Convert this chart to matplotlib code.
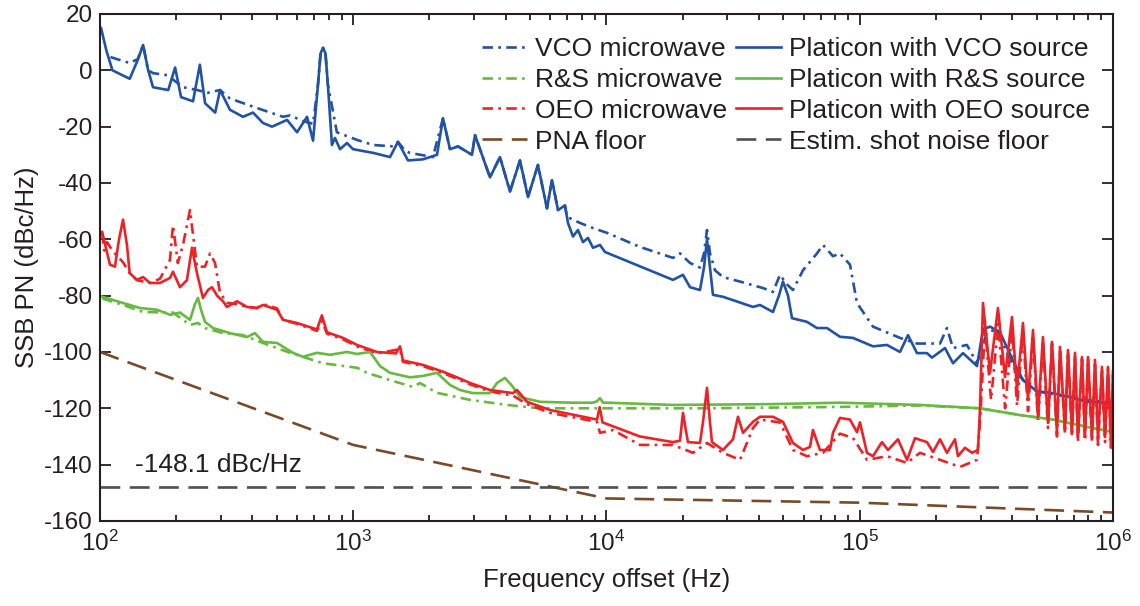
import matplotlib
matplotlib.use('Agg')
import matplotlib.pyplot as plt
from matplotlib.ticker import LogLocator, MultipleLocator, NullFormatter

plt.rcParams['font.family'] = ['Liberation Sans', 'DejaVu Sans']
plt.rcParams['mathtext.default'] = 'regular'
plt.rcParams['axes.unicode_minus'] = False

# VCO microwave source (dash-dot) and platicon locked to it (solid)
vco_mw_f = [110, 131, 141, 148, 155, 162, 184, 213, 242, 265, 298, 326, 417, 528, 563, 633, 694, 726, 743, 760,
            777, 794, 862, 1035, 1197, 1435, 1502, 1601, 1673, 2064, 2262, 2410, 2592, 2944, 3026, 3467, 3797,
            4159, 4555, 4898, 5363, 5821, 6093, 6436, 6857, 6982, 7862, 8845, 10046, 13560, 18306, 19510, 21370,
            23400, 24270, 24940, 25630, 26830, 28840, 33670, 41500, 45440, 48440, 51620, 54500, 59690, 67800,
            71590, 78410, 83560, 91520, 97540, 112800, 144200, 168300, 207500, 221000, 233500, 265100, 290400,
            318100, 348300, 381500, 417800, 483300, 579700, 789600, 1000000]
vco_mw_pn = [4.7, 2.6, 4, 9, 0, -1, -1.7, -6, -7, -8, -7, -10, -13.4, -16.5, -16, -18, -19, -5, 6, 8,
             6, -5, -22, -24.7, -26.5, -27, -25.4, -28.5, -29.3, -30.8, -17, -28, -27, -30, -23, -38, -30.8,
             -43, -32, -45, -33.6, -49, -39, -49.6, -48, -52, -54.2, -56, -57.7, -62.7, -66.6, -65, -68.4,
             -70, -65, -56.7, -65, -71, -73.4, -75, -77.3, -78.7, -72.6, -76, -78, -71, -65,
             -62, -66, -65, -69, -82.6, -91, -95, -97, -97, -91.5, -98.6, -97.5, -104,
             -93, -92, -100.4, -107.6, -113.6, -115, -117, -118]

vco_plat_f = [101, 106, 112, 131, 141, 148, 155, 162, 186, 198, 209, 233, 248, 260, 285, 298, 326, 367, 402, 440,
              478, 548, 600, 657, 694, 726, 743, 760, 777, 794, 824, 847, 887, 945, 998, 1197, 1397, 1502, 1645,
              1886, 2142, 2262, 2410, 2592, 2944, 3026, 3467, 3797, 4159, 4555, 4898, 5363, 5821, 6093, 6436,
              6857, 7047, 7374, 7718, 8076, 8453, 8845, 9428, 9865, 18306, 20050, 21370, 23400, 24270, 24940,
              25630, 26330, 28840, 37890, 40380, 45440, 47970, 49770, 52100, 54020, 61900, 67800, 74250, 83560,
              94060, 112800, 128100, 144200, 155100, 168300, 184300, 192900, 217100, 233500, 255700, 290400,
              306700, 326900, 357900, 402900, 441200, 501100, 579700, 676600, 789600, 946900, 1000000]
vco_plat_pn = [15, 7, 0, -3, 3.7, 9, 0, -6, -7, 1, -9.5, -11, 2, -11.7, -15, -7, -14, -16.5, -15, -18.7,
               -20, -17.6, -22, -16.5, -25, -5, 6, 8, 6, -5, -26.5, -24, -28, -25.8, -28, -29.3, -30.8, -25.4, -32,
               -31.6, -30, -17, -28, -27, -30, -23, -38, -30.8, -43, -32, -45, -33.6, -49, -39, -49.6,
               -48, -54.2, -59, -56.7, -61, -59.5, -63, -62, -64.5, -74.4, -72.6, -77, -78, -70, -60,
               -70, -79.7, -80.4, -84, -83.3, -85.8, -80, -75, -80, -88, -89.3, -91.5, -91.5, -94.6,
               -95, -98, -97.5, -100, -94, -100.4, -100.4, -102, -98.6, -104, -100.4, -105,
               -92, -91, -93, -103, -110, -114, -114.6, -116, -117.7, -118, -118]

# R&S microwave source and platicon locked to it
rs_mw_f = [102, 123.3, 148, 194.2, 226.7, 243.8, 259.8, 306, 367, 440, 563, 760, 1035, 1133, 1397, 1722, 1834,
           2142, 2891, 4047, 5463, 10046, 23400, 83560, 173000, 298500, 429400, 579700, 789600, 1000000]
rs_mw_pn = [-81, -83.3, -85.8, -86, -90.4, -89.7, -91.5, -93.3, -94, -96.8, -100.3, -104, -105.6, -107.4, -110,
            -112.4, -111, -114.5, -117, -118.8, -120, -120, -120, -119.5, -119, -120, -122.4, -124, -126.6, -128.4]

rs_plat_f = [102, 123.3, 143.9, 168, 189, 207, 226.7, 237.2, 243.8, 250.6, 259.8, 279.4, 326, 380.6, 409.3, 440,
             500, 578, 633, 719, 809.5, 945, 1035, 1165, 1276, 1397, 1675, 1886, 2142, 2410, 2639, 2971, 3467,
             3694, 3974, 4237, 4555, 5463, 7374, 8845, 9173, 9428, 9700, 10046, 18306, 45440, 83560, 173000,
             298500, 429400, 579700, 789600, 1000000]
rs_plat_pn = [-80.4, -82.6, -84.4, -85, -86.8, -86, -88.6, -83, -80.8, -85, -89.3, -91.5, -93.3, -94.7, -93.3, -96.4,
              -96.8, -100.3, -101.7, -100.3, -101, -100, -100.7, -100, -105, -107.4, -109, -108.5, -107.4, -111.7,
              -113.5, -114.6, -114.6, -111, -109.2, -112, -116, -117.7, -118, -118, -117.5, -116.4, -118, -118,
              -118.8, -118.5, -118, -118.8, -120, -122.4, -124, -126.6, -128.4]

# OEO microwave source and platicon locked to it
oeo_mw_f = [102, 104, 106.6, 112, 117, 123, 131, 140, 157.6, 172.6, 189, 194.2, 203, 212.7, 226.7, 241.5, 259.8,
            271.9, 284.6, 297.8, 317, 347.5, 380.6, 417, 440, 500, 528, 600, 719, 752, 788, 911, 1035, 1241, 1530,
            1572, 1886, 2262, 2569, 2891, 3467, 4274, 4855, 5983, 9173, 9428, 10610, 13560, 18306, 21960, 24940,
            28840, 33670, 37890, 40380, 48440, 54500, 61900, 71590, 83560, 94060, 106800, 128100, 153700, 173000,
            207500, 248900, 290400, 298500, 312300, 330000, 352000, 375000, 400000, 418000, 441000, 462000,
            483000, 506000, 529000, 554000, 574300, 601000, 617800, 646300, 664300, 688900, 707900, 727400,
            754500, 775100, 796900, 826500, 849200, 872800, 904800, 930100, 955700, 982000, 1000000]
oeo_mw_pn = [-57.8, -64, -61, -64, -66, -68, -72, -74.5, -75.5, -74, -67.3, -55, -68.4, -62, -49.6, -69.7, -69.7,
             -65, -68.4, -79, -82.5, -83, -84, -84.4, -83, -84.5, -88.6, -90, -92.5, -89, -93.5, -95.5, -98, -100.5, -99,
             -103.5, -105, -107.5, -109.5, -111.5, -114, -115.5, -118.5, -121.6, -124.8, -128.7, -127.7, -133, -133, -135.8, -132.3,
             -135.8, -138.3, -127, -124, -125, -134.8, -137, -135.8, -129, -130.5, -138.3, -137, -139.4, -135.8,
             -138.3, -140.8, -138.3, -125, -91, -117, -90, -120, -92, -119, -93, -121,
             -95, -125, -97, -127, -97, -130, -99, -129, -100, -130, -101, -132,
             -102.5, -131.5, -102.5, -132, -103.5, -133, -106, -132, -106, -134, -108]

oeo_plat_f = [102, 109.5, 114.6, 118.9, 123.3, 127.8, 131, 140, 148, 157.6, 172.6, 189, 194.2, 207, 220.5, 230.8,
              241.5, 255, 267, 277, 290, 306, 317, 347.5, 380.6, 417, 440, 500, 528, 600, 719, 752, 788, 911, 1035,
              1241, 1475, 1530, 1572, 1886, 2262, 2569, 2891, 3467, 4274, 4433, 4855, 5983, 9173, 9400, 9650, 13560,
              18306, 19510, 20050, 20600, 20980, 23400, 24040, 24940, 25630, 26100, 28840, 31590, 33060, 34600,
              37890, 40380, 45440, 49770, 54500, 59690, 63640, 65370, 69670, 76300, 78410, 83560, 91520, 97540,
              100200, 106800, 112800, 122400, 129300, 141600, 153700, 165300, 184300, 194700, 207500, 221000,
              237800, 244300, 260400, 277500, 293100, 298500, 306700, 326900, 351500, 374700, 399300, 417800,
              441200, 461800, 483300, 505700, 529000, 553900, 574300, 601000, 617800, 646300, 664300, 688900,
              707900, 727400, 754500, 775100, 796900, 826500, 849200, 872800, 904800, 930100, 955700, 982000,
              1000000]
oeo_plat_pn = [-57.4, -69, -69.7, -60, -53, -62, -72, -74.4, -73.4, -75.5, -75.5, -73.7, -71.5, -77, -74.5, -63,
               -72, -80.8, -78, -77, -80, -82, -84, -82, -84, -84.4, -83.3, -85, -88.6, -89.7, -92, -87, -93, -95, -97.5,
               -100, -100.5, -98, -103, -104.6, -107, -109, -111, -113.5, -114.6, -113.5, -117.7, -120.6, -124, -119.6, -125, -130,
               -132, -131.5, -121.6, -128, -132, -132.3, -125, -112.7, -125, -132, -134.8, -131, -123, -128.7,
               -124.8, -123, -123, -124.8, -132.3, -134.8, -133.7, -127.7, -134.8, -134.8, -128.7, -123.4, -124, -128.5,
               -125, -135.8, -137, -132, -134.8, -131, -138.3, -130.6, -132, -135.5, -131, -135.8,
               -131, -137, -134, -135.8, -134.8, -120, -82.6, -107.4, -84.4, -108.9, -87.6, -113.5,
               -89.7, -117, -92.2, -123, -94.7, -125.2, -96.4, -128.7, -98.2, -127.7, -99.3, -128.7,
               -100.3, -130.5, -101.8, -130.2, -101.8, -130.2, -102.8, -131.2, -105.3, -130.2, -105.3, -133,
               -107]

# analyzer floor and estimated shot noise limit
pna_f = [100, 1000, 10000, 100000, 1000000]
pna_pn = [-100, -133, -152, -153.5, -157]
shot_floor = -148.1

BLUE = '#2152A3'
GREEN = '#67B93F'
RED = '#EC2227'
BROWN = '#7A4A28'
GRAY = '#505050'
TXT = '#231F20'

LW = 1.9
DASHDOT = (4, 2, 1, 2)
DASH = (7.5, 3.6)
line_kw = dict(lw=LW, solid_joinstyle='round', dash_joinstyle='round', dash_capstyle='butt')

fig = plt.figure(figsize=(11.4, 6.06), dpi=100)
ax = fig.add_axes([0.0877, 0.1403, 0.8886, 0.8366])

h_pna, = ax.plot(pna_f, pna_pn, color=BROWN, dashes=DASH, **line_kw)
h_shot = ax.axhline(shot_floor, color=GRAY, dashes=DASH, **line_kw)

h_vco_mw, = ax.plot(vco_mw_f, vco_mw_pn, color=BLUE, dashes=DASHDOT, **line_kw)
h_rs_mw, = ax.plot(rs_mw_f, rs_mw_pn, color=GREEN, dashes=DASHDOT, **line_kw)
h_oeo_mw, = ax.plot(oeo_mw_f, oeo_mw_pn, color=RED, dashes=DASHDOT, **line_kw)

h_vco, = ax.plot(vco_plat_f, vco_plat_pn, color=BLUE, **line_kw)
h_rs, = ax.plot(rs_plat_f, rs_plat_pn, color=GREEN, **line_kw)
h_oeo, = ax.plot(oeo_plat_f, oeo_plat_pn, color=RED, **line_kw)

ax.text(137, -140, '%.1f dBc/Hz' % shot_floor, fontsize=19, color=TXT, va='center', ha='left')

ax.set_xscale('log')
ax.set_xlim(1e2, 1e6)
ax.set_ylim(-160, 20)
ax.yaxis.set_major_locator(MultipleLocator(20))
ax.xaxis.set_major_locator(LogLocator(base=10, numticks=10))
ax.xaxis.set_minor_locator(LogLocator(base=10, subs=range(2, 10), numticks=20))
ax.xaxis.set_minor_formatter(NullFormatter())

ax.tick_params(which='both', direction='in', top=True, right=True, colors=TXT, labelsize=17.5, width=1.3)
ax.tick_params(which='major', length=8, pad=5)
ax.tick_params(axis='x', which='major', pad=7)
ax.tick_params(which='minor', length=4.5)
for s in ax.spines.values():
    s.set_linewidth(1.5)
    s.set_color(TXT)

ax.set_xlabel('Frequency offset (Hz)', fontsize=18.5, color=TXT, labelpad=9)
ax.set_ylabel('SSB PN (dBc/Hz)', fontsize=18.5, color=TXT, labelpad=4)

handles = [h_vco_mw, h_rs_mw, h_oeo_mw, h_pna, h_vco, h_rs, h_oeo, h_shot]
labels = ['VCO microwave', 'R&S microwave', 'OEO microwave', 'PNA floor',
          'Platicon with VCO source', 'Platicon with R&S source', 'Platicon with OEO source',
          'Estim. shot noise floor']
leg = ax.legend(handles, labels, ncol=2, frameon=False, fontsize=19, loc='upper left',
                bbox_to_anchor=(482 / 1140, 1 - 37 / 606), bbox_transform=fig.transFigure,
                borderpad=0, borderaxespad=0, handlelength=1.7, handletextpad=0.3,
                columnspacing=0.35, labelspacing=0.26)
for t in leg.get_texts():
    t.set_color(TXT)

fig.savefig('out.png', dpi=100)
